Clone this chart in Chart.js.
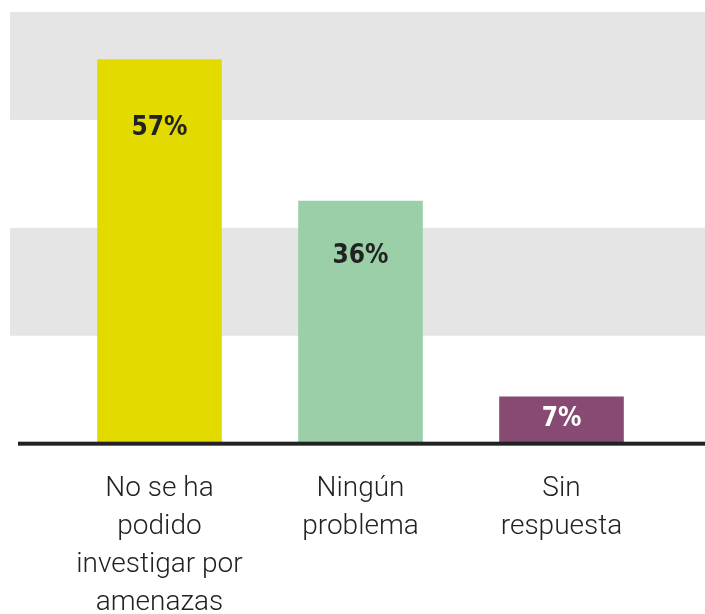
<!DOCTYPE html>
<html>
<head>
<meta charset="utf-8">
<script src="https://cdn.jsdelivr.net/npm/chart.js@4"></script>
<style>
  html, body { margin: 0; padding: 0; background: #fff; overflow: hidden; }
  #wrap { width: 705px; height: 640px; }
</style>
</head>
<body>
<div id="wrap"><canvas id="myChart" width="705" height="640"></canvas></div>
<script>
const categories = [
  ["No se ha", "podido", "investigar por", "amenazas"],
  ["Ningún", "problema"],
  ["Sin", "respuesta"],
];
const values = [57, 36, 7];
const barColors = ["#e3da00", "#9acfa7", "#874a72"];
const labelColors = ["#222222", "#222222", "#ffffff"];
const bands = [[16, 32], [48, 64]];

const bandPlugin = {
  id: "bands",
  beforeDatasetsDraw(chart) {
    const ctx = chart.ctx;
    const y = chart.scales.y;
    ctx.save();
    ctx.fillStyle = "#e5e5e5";
    bands.forEach(([a, b]) => {
      const top = y.getPixelForValue(b);
      const bottom = y.getPixelForValue(a);
      ctx.fillRect(10, top, chart.width - 10, bottom - top);
    });
    ctx.restore();
  },
  afterDatasetsDraw(chart) {
    const ctx = chart.ctx;
    const y = chart.scales.y;
    const base = y.getPixelForValue(0);
    ctx.save();
    ctx.fillStyle = "#222222";
    ctx.fillRect(18, base - 2, chart.width - 18, 4);
    // value labels
    const meta = chart.getDatasetMeta(0);
    ctx.font = "bold 26px 'DejaVu Sans Condensed', sans-serif";
    ctx.textAlign = "center";
    ctx.textBaseline = "middle";
    meta.data.forEach((bar, i) => {
      const h = base - bar.y;
      ctx.fillStyle = labelColors[i];
      ctx.fillText(values[i] + "%", bar.x, Math.min(bar.y + 34 + 0.09 * h, base - 24));
    });
    ctx.restore();
  },
};

new Chart("myChart", {
  type: "bar",
  data: {
    labels: categories,
    datasets: [
      {
        data: values,
        backgroundColor: barColors,
        barPercentage: 0.62,
        categoryPercentage: 1,
      },
    ],
  },
  options: {
    responsive: false,
    animation: false,
    layout: {
      padding: { left: 59, right: 43, top: 12, bottom: 0 },
    },
    plugins: {
      legend: { display: false },
      tooltip: { enabled: false },
    },
    scales: {
      x: {
        grid: { display: false },
        border: { display: false },
        ticks: {
          color: "#222222",
          padding: 18,
          font: { family: "Roboto", weight: 300, size: 28, lineHeight: 1.36 },
        },
      },
      y: {
        display: false,
        min: 0,
        max: 64,
      },
    },
  },
  plugins: [bandPlugin],
});
</script>
</body>
</html>
